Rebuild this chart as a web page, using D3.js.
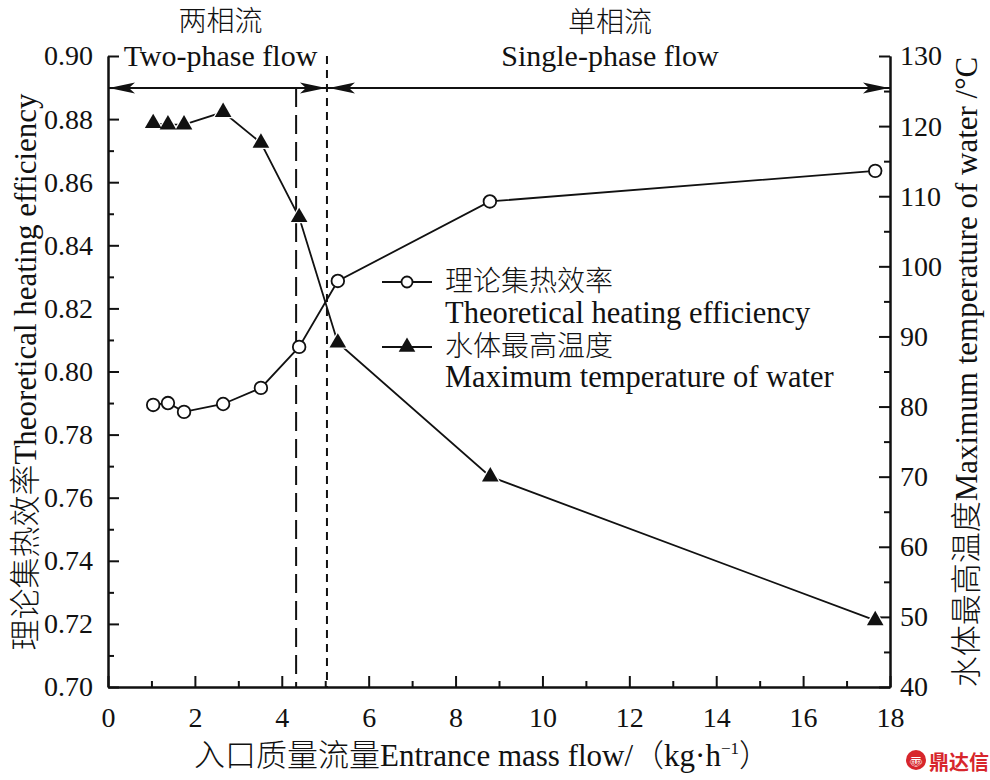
<!DOCTYPE html>
<html>
<head>
<meta charset="utf-8">
<script src="https://cdn.jsdelivr.net/npm/d3@7"></script>
<style>
  html, body { margin: 0; padding: 0; background: #fff; }
  svg { display: block; }
</style>
</head>
<body>
<svg id="chart" width="990" height="780"></svg>
<script>
// ---- data ----
const flowEff   = [1.04, 1.38, 1.75, 2.65, 3.52, 4.40, 5.29, 8.79, 17.66];
const effValues = [0.7894, 0.7900, 0.7872, 0.7897, 0.7948, 0.8078, 0.8287, 0.8539, 0.8636];
const flowTemp  = [1.04, 1.38, 1.75, 2.65, 3.52, 4.40, 5.29, 8.80, 17.66];
const tempValues = [120.4, 120.2, 120.2, 122.0, 117.6, 107.0, 89.1, 70.0, 49.5];

const xTicks = [0, 2, 4, 6, 8, 10, 12, 14, 16, 18];
const xMinor = [1, 3, 5, 7, 9, 11, 13, 15, 17];
const yLeftTicks = [0.70, 0.72, 0.74, 0.76, 0.78, 0.80, 0.82, 0.84, 0.86, 0.88, 0.90];
const yLeftMinor = [0.71, 0.73, 0.75, 0.77, 0.79, 0.81, 0.83, 0.85, 0.87, 0.89];
const yRightTicks = [40, 50, 60, 70, 80, 90, 100, 110, 120, 130];
const yRightMinor = [45, 55, 65, 75, 85, 95, 105, 115, 125];

const boundaries = [4.33, 5.04];       // long-dash, short-dash vertical lines
const regionLabelsCN = ["两相流", "单相流"];
const regionLabelsEN = ["Two-phase flow", "Single-phase flow"];
const legendCN = ["理论集热效率", "水体最高温度"];
const legendEN = ["Theoretical heating efficiency", "Maximum temperature of water"];

// ---- layout ----
const L = 108, R = 890, T = 56, B = 687;
const serif = "'Liberation Serif', Tinos, 'Times New Roman', 'DejaVu Serif', serif";
const cnFont = "'Noto Sans CJK SC', 'Noto Sans CJK JP', sans-serif";
const mixFont = "'Liberation Serif', Tinos, 'Times New Roman', 'Noto Sans CJK SC', serif";

const svg = d3.select("#chart").attr("font-family", mixFont);
const x = d3.scaleLinear().domain([0, 18]).range([L, R]);
const yL = d3.scaleLinear().domain([0.70, 0.90]).range([B, T]);
const yR = d3.scaleLinear().domain([40, 130]).range([B, T]);

// axes
svg.append("g").attr("transform", `translate(0,${B})`)
  .call(d3.axisBottom(x).tickValues(xTicks).tickFormat(d3.format("d")).tickSizeInner(-11).tickSizeOuter(0).tickPadding(20));
svg.append("g").attr("transform", `translate(0,${B})`)
  .call(d3.axisBottom(x).tickValues(xMinor).tickFormat("").tickSizeInner(-6).tickSizeOuter(0));

svg.append("g").attr("transform", `translate(${L},0)`)
  .call(d3.axisLeft(yL).tickValues(yLeftTicks).tickFormat(d3.format(".2f")).tickSizeInner(-11).tickSizeOuter(0).tickPadding(15));
svg.append("g").attr("transform", `translate(${L},0)`)
  .call(d3.axisLeft(yL).tickValues(yLeftMinor).tickFormat("").tickSizeInner(-6).tickSizeOuter(0));

svg.append("g").attr("transform", `translate(${R},0)`)
  .call(d3.axisRight(yR).tickValues(yRightTicks).tickFormat(d3.format("d")).tickSizeInner(-11).tickSizeOuter(0).tickPadding(10));
svg.append("g").attr("transform", `translate(${R},0)`)
  .call(d3.axisRight(yR).tickValues(yRightMinor).tickFormat("").tickSizeInner(-6).tickSizeOuter(0));

svg.selectAll("g").attr("font-family", serif);
svg.selectAll(".domain").attr("stroke", "#111").attr("stroke-width", 2);
svg.selectAll(".tick line").attr("stroke", "#111").attr("stroke-width", 2);
svg.selectAll(".tick text").attr("font-size", 28).attr("font-family", serif).attr("fill", "#111");

// vertical boundary lines
svg.append("line")
  .attr("x1", x(boundaries[0])).attr("x2", x(boundaries[0]))
  .attr("y1", 88).attr("y2", B)
  .attr("stroke", "#111").attr("stroke-width", 2).attr("stroke-dasharray", "19,8");
svg.append("line")
  .attr("x1", x(boundaries[1])).attr("x2", x(boundaries[1]))
  .attr("y1", T).attr("y2", B)
  .attr("stroke", "#111").attr("stroke-width", 2).attr("stroke-dasharray", "8,6");

// arrows
const arrowY = 88;
svg.append("line").attr("x1", L).attr("x2", R).attr("y1", arrowY).attr("y2", arrowY)
  .attr("stroke", "#111").attr("stroke-width", 2);
function arrowHead(tipX, dir) { // dir: -1 points left, +1 points right
  const len = 26, hw = 5.5, notch = 20;
  const p = d3.path();
  p.moveTo(tipX, arrowY);
  p.lineTo(tipX - dir * len, arrowY - hw);
  p.lineTo(tipX - dir * notch, arrowY);
  p.lineTo(tipX - dir * len, arrowY + hw);
  p.closePath();
  svg.append("path").attr("d", p.toString()).attr("fill", "#111");
}
const bx = x(boundaries[1]);
arrowHead(L + 1, -1);
arrowHead(bx - 1, 1);
arrowHead(bx + 2, -1);
arrowHead(R - 1, 1);

// region labels
const leftCenter = (L + bx) / 2 + 3;
const rightCenter = 610;
svg.append("text").attr("x", leftCenter).attr("y", 31).attr("text-anchor", "middle")
  .attr("font-size", 28).attr("font-family", cnFont).attr("font-weight", 300).attr("fill", "#111").text(regionLabelsCN[0]);
svg.append("text").attr("x", rightCenter).attr("y", 32).attr("text-anchor", "middle")
  .attr("font-size", 28).attr("font-family", cnFont).attr("font-weight", 300).attr("fill", "#111").text(regionLabelsCN[1]);
svg.append("text").attr("x", leftCenter).attr("y", 66).attr("text-anchor", "middle")
  .attr("font-size", 30).attr("font-family", serif).attr("fill", "#111").text(regionLabelsEN[0]);
svg.append("text").attr("x", rightCenter).attr("y", 66).attr("text-anchor", "middle")
  .attr("font-size", 30).attr("font-family", serif).attr("fill", "#111").text(regionLabelsEN[1]);

// series lines
const lineEff = d3.line().x((d, i) => x(flowEff[i])).y(d => yL(d));
const lineTemp = d3.line().x((d, i) => x(flowTemp[i])).y(d => yR(d));
svg.append("path").attr("d", lineEff(effValues)).attr("fill", "none").attr("stroke", "#111").attr("stroke-width", 1.8);
svg.append("path").attr("d", lineTemp(tempValues)).attr("fill", "none").attr("stroke", "#111").attr("stroke-width", 1.8);

// markers
const triBig = d3.symbol().type(d3.symbolTriangle).size(190);
const tri = d3.symbol().type(d3.symbolTriangle).size(120);
tempValues.forEach((v, i) => {
  svg.append("path").attr("d", triBig()).attr("transform", `translate(${x(flowTemp[i])},${yR(v)})`).attr("fill", "#fff");
});
tempValues.forEach((v, i) => {
  svg.append("path").attr("d", tri()).attr("transform", `translate(${x(flowTemp[i])},${yR(v)})`).attr("fill", "#111");
});
effValues.forEach((v, i) => {
  svg.append("circle").attr("cx", x(flowEff[i])).attr("cy", yL(v)).attr("r", 6.3)
    .attr("fill", "#fff").attr("stroke", "#111").attr("stroke-width", 1.8);
});

// legend
const lgX1 = 382, lgX2 = 432, lgTextX = 445;
const lgY = [282, 347];
lgY.forEach((yy) => {
  svg.append("line").attr("x1", lgX1).attr("x2", lgX2).attr("y1", yy).attr("y2", yy)
    .attr("stroke", "#111").attr("stroke-width", 1.8);
});
svg.append("circle").attr("cx", (lgX1 + lgX2) / 2).attr("cy", lgY[0]).attr("r", 5.5)
  .attr("fill", "#fff").attr("stroke", "#111").attr("stroke-width", 1.8);
svg.append("path").attr("d", tri()).attr("transform", `translate(${(lgX1 + lgX2) / 2},${lgY[1]})`).attr("fill", "#111");
svg.append("text").attr("x", lgTextX).attr("y", lgY[0] + 9).attr("font-size", 28)
  .attr("font-family", cnFont).attr("font-weight", 300).attr("fill", "#111").text(legendCN[0]);
svg.append("text").attr("x", lgTextX).attr("y", 323).attr("font-size", 30.5)
  .attr("font-family", serif).attr("fill", "#111").text(legendEN[0]);
svg.append("text").attr("x", lgTextX).attr("y", lgY[1] + 9).attr("font-size", 28)
  .attr("font-family", cnFont).attr("font-weight", 300).attr("fill", "#111").text(legendCN[1]);
svg.append("text").attr("x", lgTextX).attr("y", 387).attr("font-size", 30.5)
  .attr("font-family", serif).attr("fill", "#111").text(legendEN[1]);

// axis titles
function mixedLabel(sel, cn, en, size) {
  sel.attr("font-size", size).attr("fill", "#111");
  sel.append("tspan").attr("font-family", cnFont).attr("font-weight", 300).text(cn);
  sel.append("tspan").attr("font-family", serif).text(en);
}
const xl = svg.append("text").attr("x", 482).attr("y", 766).attr("text-anchor", "middle");
mixedLabel(xl, "入口质量流量", "Entrance mass flow/", 31);
xl.append("tspan").attr("font-family", cnFont).attr("font-weight", 300).text("（");
xl.append("tspan").attr("font-family", serif).text("kg·h");
xl.append("tspan").attr("font-family", serif).attr("font-size", 17).attr("dy", -12).text("−1");
xl.append("tspan").attr("dy", 12).attr("font-family", cnFont).attr("font-weight", 300).text("）");

const yl = svg.append("text").attr("text-anchor", "middle")
  .attr("transform", `translate(36,372) rotate(-90)`);
mixedLabel(yl, "理论集热效率", "Theoretical heating efficiency", 31);

const yr = svg.append("text").attr("text-anchor", "middle")
  .attr("transform", `translate(977,372) rotate(-90)`);
mixedLabel(yr, "水体最高温度", "Maximum temperature of water /°C", 31);

// watermark
svg.append("circle").attr("cx", 916).attr("cy", 760).attr("r", 10).attr("fill", "#d7262c");
svg.append("text").attr("x", 916).attr("y", 766).attr("text-anchor", "middle").attr("font-size", 13)
  .attr("font-family", cnFont).attr("font-weight", 700).attr("fill", "#fff").text("〠");
svg.append("text").attr("x", 929).attr("y", 770).attr("font-size", 20)
  .attr("font-family", cnFont).attr("font-weight", 700).attr("fill", "#d7262c").text("鼎达信");
</script>
</body>
</html>
